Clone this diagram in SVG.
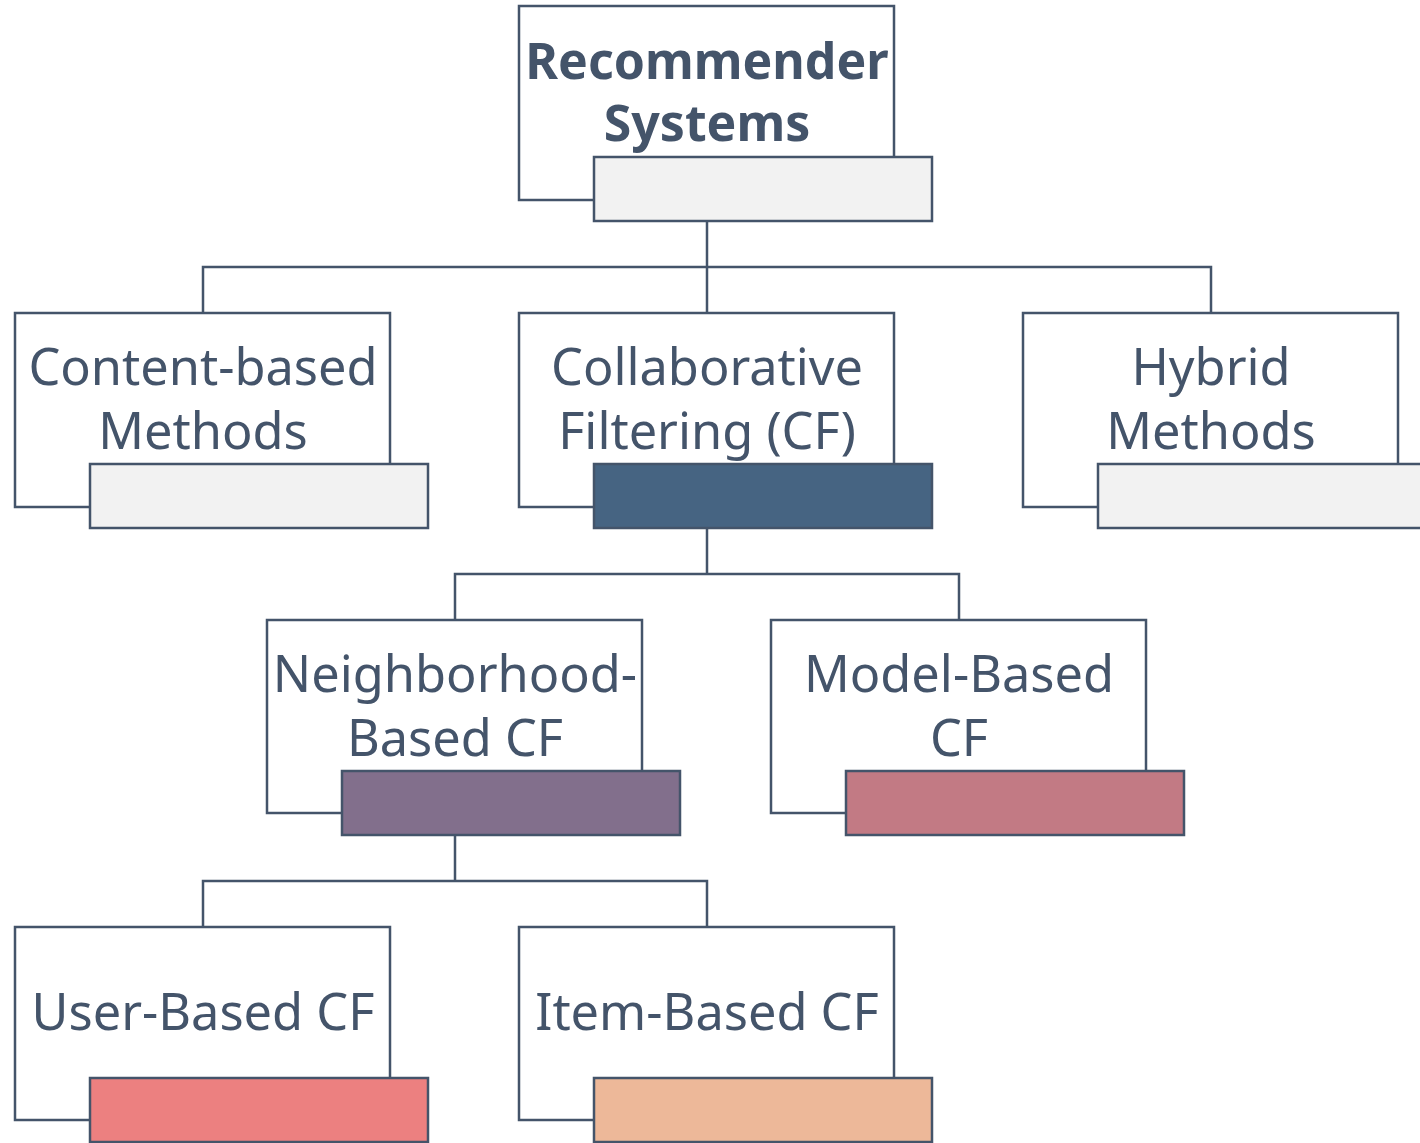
<svg xmlns="http://www.w3.org/2000/svg" width="1420" height="1143" viewBox="0 0 1420 1143">
  <style>
    .box { fill: #ffffff; stroke: #44546a; stroke-width: 2.5; }
    .bar { stroke: #44546a; stroke-width: 2.5; }
    .lbl { font-family: "Noto Sans", "Open Sans", sans-serif; font-size: 50.5px; fill: #44546a; text-anchor: middle; }
    .ttl { font-family: "Noto Sans", "Open Sans", sans-serif; font-size: 50px; font-weight: bold; fill: #44546a; text-anchor: middle; }
    .wire { fill: none; stroke: #44546a; stroke-width: 2.5; }
  </style>
  <rect width="1420" height="1143" fill="#ffffff"/>

  <g id="connectors">
    <path class="wire" d="M707 221 V267 M203 313 V267 H1211 V313 M707 267 V313"/>
    <path class="wire" d="M707 528 V574 M455 620 V574 H959 V620"/>
    <path class="wire" d="M455 835 V881 M203 927 V881 H707 V927"/>
  </g>

  <g id="recommender-systems">
    <rect class="box" x="519" y="6" width="375" height="194"/>
    <text class="ttl" x="707" y="79">Recommender</text>
    <text class="ttl" x="707" y="141">Systems</text>
    <rect class="bar" x="594" y="157" width="338" height="64" fill="#f2f2f2"/>
  </g>

  <g id="content-based">
    <rect class="box" x="15" y="313" width="375" height="194"/>
    <text class="lbl" x="203" y="385">Content-based</text>
    <text class="lbl" x="203" y="449">Methods</text>
    <rect class="bar" x="90" y="464" width="338" height="64" fill="#f2f2f2"/>
  </g>

  <g id="collaborative-filtering">
    <rect class="box" x="519" y="313" width="375" height="194"/>
    <text class="lbl" x="707" y="385">Collaborative</text>
    <text class="lbl" x="707" y="449">Filtering (CF)</text>
    <rect class="bar" x="594" y="464" width="338" height="64" fill="#466482"/>
  </g>

  <g id="hybrid">
    <rect class="box" x="1023" y="313" width="375" height="194"/>
    <text class="lbl" x="1211" y="385">Hybrid</text>
    <text class="lbl" x="1211" y="449">Methods</text>
    <rect class="bar" x="1098" y="464" width="338" height="64" fill="#f2f2f2"/>
  </g>

  <g id="neighborhood-based">
    <rect class="box" x="267" y="620" width="375" height="193"/>
    <text class="lbl" x="455" y="692">Neighborhood-</text>
    <text class="lbl" x="455" y="756">Based CF</text>
    <rect class="bar" x="342" y="771" width="338" height="64" fill="#826f8c"/>
  </g>

  <g id="model-based">
    <rect class="box" x="771" y="620" width="375" height="193"/>
    <text class="lbl" x="959" y="692">Model-Based</text>
    <text class="lbl" x="959" y="756">CF</text>
    <rect class="bar" x="846" y="771" width="338" height="64" fill="#c27a84"/>
  </g>

  <g id="user-based">
    <rect class="box" x="15" y="927" width="375" height="193"/>
    <text class="lbl" x="203" y="1030">User-Based CF</text>
    <rect class="bar" x="90" y="1078" width="338" height="64" fill="#ec8080"/>
  </g>

  <g id="item-based">
    <rect class="box" x="519" y="927" width="375" height="193"/>
    <text class="lbl" x="707" y="1030">Item-Based CF</text>
    <rect class="bar" x="594" y="1078" width="338" height="64" fill="#edb899"/>
  </g>
</svg>
